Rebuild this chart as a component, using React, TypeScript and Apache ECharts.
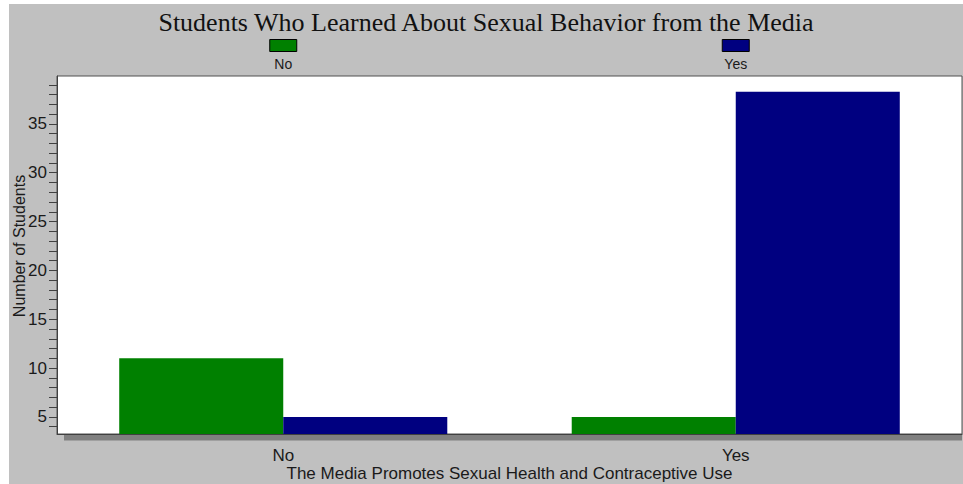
import React, { useEffect, useRef } from "react";
import * as echarts from "echarts";

const categories = ["No", "Yes"];
const seriesNames = ["No", "Yes"];
const seriesNo = [11, 5];
const seriesYes = [5, 38.3];
const yLabelValues = [5, 10, 15, 20, 25, 30, 35];
const yTickValues = [4, 5, 6, 7, 8, 9, 10, 11, 12, 13, 14, 15, 16, 17, 18, 19, 20, 21, 22, 23, 24, 25, 26, 27, 28, 29, 30, 31, 32, 33, 34, 35, 36, 37, 38, 39];
const colors = ["#008000", "#000080"];

const SANS = "'Liberation Sans', Arial, sans-serif";
const SERIF = "'Liberation Serif', 'Times New Roman', serif";

export default function App() {
  const ref = useRef<HTMLDivElement>(null);
  useEffect(() => {
    if (!ref.current) return;
    const chart = echarts.init(ref.current, null, { renderer: "svg" });
    chart.setOption({
      animation: false,
      backgroundColor: "#c0c0c0",
      title: {
        text: "Students Who Learned About Sexual Behavior from the Media",
        left: "center",
        top: 0,
        textStyle: { fontFamily: SERIF, fontSize: 26, fontWeight: "normal", color: "#111" },
      },
      grid: {
        left: 48,
        top: 72,
        right: 1,
        bottom: 50,
        containLabel: false,
        outerBoundsMode: "none",
        show: true,
        backgroundColor: "#ffffff",
        borderColor: "#505050",
        borderWidth: 1,
      },
      xAxis: {
        type: "category",
        data: categories,
        name: "The Media Promotes Sexual Health and Contraceptive Use",
        nameLocation: "middle",
        nameGap: 31,
        nameMoveOverlap: false,
        nameTextStyle: { fontFamily: SANS, fontSize: 17, color: "#1a1a1a" },
        axisLine: { lineStyle: { color: "#404040", width: 1 } },
        axisTick: { alignWithLabel: true, length: 11, lineStyle: { color: "#404040" } },
        axisLabel: { fontFamily: SANS, fontSize: 17, color: "#1a1a1a", margin: 13 },
        splitLine: { show: false },
      },
      yAxis: {
        type: "value",
        min: 3.25,
        max: 39.9,
        name: "Number of Students",
        nameLocation: "middle",
        nameGap: 30,
        nameMoveOverlap: false,
        nameTextStyle: { fontFamily: SANS, fontSize: 16, color: "#1a1a1a", padding: [0, 0, 0, 18] },
        axisLine: { show: true, lineStyle: { color: "#404040", width: 1 } },
        axisTick: { show: true, length: 8, customValues: yTickValues, lineStyle: { color: "#404040" } },
        axisLabel: { fontFamily: SANS, fontSize: 17, color: "#1a1a1a", margin: 10, customValues: yLabelValues },
        splitLine: { show: false },
      },
      series: [
        {
          name: seriesNames[0],
          type: "bar",
          data: seriesNo,
          barGap: "0%",
          barCategoryGap: "27.5%",
          itemStyle: { color: colors[0] },
        },
        {
          name: seriesNames[1],
          type: "bar",
          data: seriesYes,
          barGap: "0%",
          barCategoryGap: "27.5%",
          itemStyle: { color: colors[1] },
        },
      ],
    });

    const gridRect = (chart as any).getModel().getComponent("grid", 0).coordinateSystem.getRect();
    const legendEls: any[] = [];
    seriesNames.forEach((n, i) => {
      const cx = chart.convertToPixel({ xAxisIndex: 0 }, categories[i]) as number;
      legendEls.push({
        type: "rect",
        shape: { x: cx - 13.5, y: 35.5, width: 27, height: 12 },
        style: { fill: colors[i], stroke: "#000", lineWidth: 1 },
        silent: true,
      });
      legendEls.push({
        type: "text",
        x: cx,
        y: 60,
        style: {
          text: n,
          fontFamily: SANS,
          fontSize: 14,
          fill: "#1a1a1a",
          textAlign: "center",
          textVerticalAlign: "middle",
        },
        silent: true,
      });
    });
    legendEls.push({
      type: "rect",
      shape: {
        x: gridRect.x + 7,
        y: gridRect.y + gridRect.height + 0.5,
        width: gridRect.width - 7,
        height: 6,
      },
      style: { fill: "#808080" },
      silent: true,
      z: -1,
    });
    chart.setOption({ graphic: legendEls });

    return () => chart.dispose();
  }, []);
  return (
    <div
      ref={ref}
      style={{ position: "absolute", left: 9, top: 4, width: 954, height: 480 }}
    />
  );
}
